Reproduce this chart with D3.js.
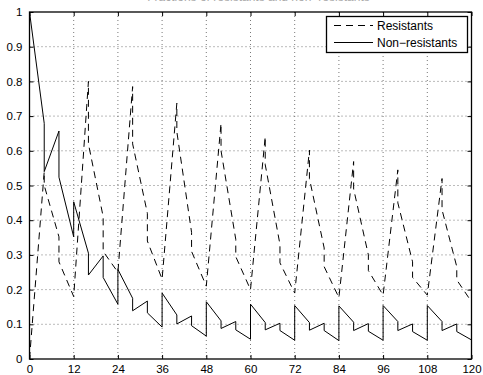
<!DOCTYPE html>
<html>
<head>
<meta charset="utf-8">
<script src="https://cdn.jsdelivr.net/npm/d3@7"></script>
<style>
  body { margin: 0; background: #fff; }
  svg { display: block; font-family: "Liberation Sans", Arial, sans-serif; }
</style>
</head>
<body>
<svg id="chart" width="483" height="375"></svg>
<script>
// values (hours vs fraction)
var xTicks = [0, 12, 24, 36, 48, 60, 72, 84, 96, 108, 120];
var yTicks = [0, 0.1, 0.2, 0.3, 0.4, 0.5, 0.6, 0.7, 0.8, 0.9, 1];
var seriesNames = ["Resistants", "Non\u2212resistants"];

// non-resistants: jumps at every dose, so times repeat
var nonResTime = [0, 4, 4, 8, 8, 12, 12, 16, 16, 20, 20, 24, 24, 28, 28, 32, 32, 36, 36,
  40, 40, 44, 44, 48, 48, 52, 52, 56, 56, 60, 60, 64, 64, 68, 68, 72, 72, 76, 76, 80, 80,
  84, 84, 88, 88, 92, 92, 96, 96, 100, 100, 104, 104, 108, 108, 112, 112, 116, 116, 120];
var nonResValue = [1.0, 0.679, 0.54, 0.657, 0.524, 0.352, 0.453, 0.305, 0.242, 0.297, 0.235,
  0.158, 0.258, 0.175, 0.139, 0.167, 0.133, 0.092, 0.190, 0.127, 0.101, 0.124, 0.096,
  0.066, 0.165, 0.110, 0.088, 0.108, 0.084, 0.057, 0.158, 0.105, 0.084, 0.103, 0.082,
  0.054, 0.154, 0.105, 0.083, 0.103, 0.082, 0.053, 0.153, 0.106, 0.082, 0.102, 0.080,
  0.054, 0.154, 0.108, 0.082, 0.101, 0.079, 0.054, 0.154, 0.108, 0.082, 0.101, 0.079, 0.055];

// resistants
var resTime = [0, 4, 4, 8, 8, 12, 16, 16, 20, 20, 24, 28, 28, 32, 32, 36, 40, 40, 44, 44, 48,
  52, 52, 56, 56, 60, 64, 64, 68, 68, 72, 76, 76, 80, 80, 84, 88, 88, 92, 92, 96,
  100, 100, 104, 104, 108, 112, 112, 116, 116, 120];
var resValue = [0, 0.54, 0.50, 0.352, 0.28, 0.18, 0.80, 0.62, 0.41, 0.31, 0.25,
  0.785, 0.62, 0.42, 0.34, 0.23, 0.737, 0.655, 0.365, 0.31, 0.21,
  0.679, 0.60, 0.345, 0.295, 0.20, 0.641, 0.56, 0.33, 0.277, 0.19,
  0.602, 0.52, 0.32, 0.266, 0.177, 0.569, 0.49, 0.30, 0.255, 0.184,
  0.545, 0.45, 0.28, 0.235, 0.184, 0.52, 0.43, 0.266, 0.228, 0.165];

var svg = d3.select("#chart");
var padL = 29.5, padR = 471.5, padT = 12, padB = 359;

var x = d3.scaleLinear().domain([0, 120]).range([padL, padR]);
var y = d3.scaleLinear().domain([0, 1]).range([padB, padT]);

// title, cut off at the top edge in the original
svg.append("text")
  .attr("x", (padL + padR) / 2 + 8).attr("y", 1)
  .attr("text-anchor", "middle")
  .attr("font-size", 12)
  .attr("fill", "#aaa")
  .text("Fractions of resistants and non\u2212resistants");

// dotted grid
var grid = svg.append("g").attr("stroke", "#555").attr("stroke-width", 0.8)
  .attr("stroke-dasharray", "1,3");
grid.selectAll(".gx").data(xTicks.slice(1, -1)).enter().append("line")
  .attr("x1", function(d) { return x(d); }).attr("x2", function(d) { return x(d); })
  .attr("y1", padT).attr("y2", padB);
grid.selectAll(".gy").data(yTicks.slice(1, -1)).enter().append("line")
  .attr("x1", padL).attr("x2", padR)
  .attr("y1", function(d) { return y(d); }).attr("y2", function(d) { return y(d); });

// axes (ticks inside like matlab)
var xAxis = svg.append("g").attr("transform", "translate(0," + padB + ")")
  .call(d3.axisBottom(x).tickValues(xTicks).tickSize(-4).tickPadding(6).tickFormat(d3.format("d")));
var xAxisTop = svg.append("g").attr("transform", "translate(0," + padT + ")")
  .call(d3.axisTop(x).tickValues(xTicks).tickSize(-4).tickFormat(""));
var yAxis = svg.append("g").attr("transform", "translate(" + padL + ",0)")
  .call(d3.axisLeft(y).tickValues(yTicks).tickSize(-4).tickPadding(7).tickFormat(function(d) { return d3.format("~g")(d); }));
var yAxisRight = svg.append("g").attr("transform", "translate(" + padR + ",0)")
  .call(d3.axisRight(y).tickValues(yTicks).tickSize(-4).tickFormat(""));

[xAxis, xAxisTop, yAxis, yAxisRight].forEach(function(a) {
  a.select(".domain").remove();
  a.selectAll(".tick line").attr("stroke", "#000");
  a.selectAll("text").attr("font-size", 11.5).attr("fill", "#000")
    .attr("font-family", "'Liberation Sans', Arial, sans-serif");
});

svg.append("rect").attr("x", padL).attr("y", padT)
  .attr("width", padR - padL).attr("height", padB - padT)
  .attr("fill", "none").attr("stroke", "#000").attr("stroke-width", 1.3);

// series
var line = d3.line().x(function(d) { return x(d[0]); }).y(function(d) { return y(d[1]); });
var resPts = resTime.map(function(t, i) { return [t, resValue[i]]; });
var nonPts = nonResTime.map(function(t, i) { return [t, nonResValue[i]]; });

svg.append("path").datum(resPts).attr("d", line)
  .attr("fill", "none").attr("stroke", "#000").attr("stroke-width", 1)
  .attr("stroke-dasharray", "7,5");
svg.append("path").datum(nonPts).attr("d", line)
  .attr("fill", "none").attr("stroke", "#000").attr("stroke-width", 1);

// legend
var lg = svg.append("g");
lg.append("rect").attr("x", 326.5).attr("y", 16.5).attr("width", 141).attr("height", 36)
  .attr("fill", "#fff").attr("stroke", "#000").attr("stroke-width", 1.3);
seriesNames.forEach(function(name, i) {
  var ly = 25.5 + i * 17;
  lg.append("line").attr("x1", 334).attr("x2", 373).attr("y1", ly).attr("y2", ly)
    .attr("stroke", "#000").attr("stroke-width", 1)
    .attr("stroke-dasharray", i == 0 ? "7,5" : null);
  lg.append("text").attr("x", 377).attr("y", ly + 4.5).attr("font-size", 12)
    .text(name);
});
</script>
</body>
</html>
